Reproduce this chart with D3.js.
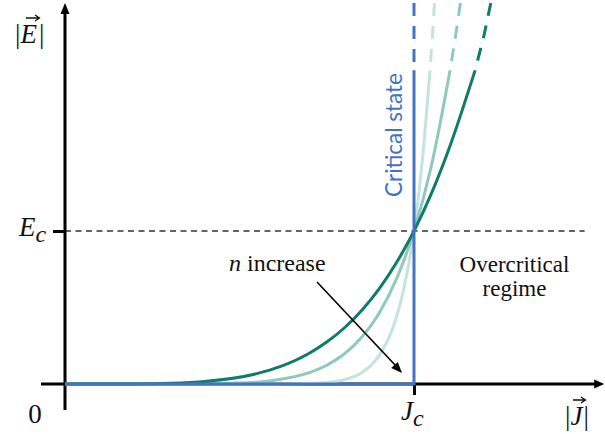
<!DOCTYPE html>
<html>
<head>
<meta charset="utf-8">
<script src="https://cdn.jsdelivr.net/npm/d3@7"></script>
<style>
  body { margin: 0; background: #fff; }
  svg { display: block; }
  .serif { font-family: "Liberation Serif", "Times New Roman", serif; fill: #111; }
</style>
</head>
<body>
<svg id="chart" width="605" height="434"></svg>
<script>
// Normalised current density J/Jc and electric field E/Ec along each E–J curve.
// Curves go from low n (dark) to high n (light); solid up to E/Ec = 2.05, dashed above.
const darkJ  = [0, 0.2, 0.3, 0.4, 0.55, 0.62, 0.7, 0.75, 0.8, 0.85, 0.9, 0.95, 1.0, 1.05, 1.1, 1.175];
const darkE  = [0, 0.0007, 0.0044, 0.0162, 0.0679, 0.1164, 0.201, 0.274, 0.366, 0.481, 0.622, 0.794, 1.0, 1.2455, 1.536, 2.05];
const darkDashJ = [1.175, 1.2, 1.22];
const darkDashE = [2.05, 2.2715, 2.49];

const midJ  = [0, 0.3, 0.5, 0.6, 0.7, 0.75, 0.8, 0.85, 0.9, 0.95, 1.0, 1.05, 1.1033];
const midE  = [0, 0.00015, 0.00635, 0.024, 0.074, 0.1225, 0.196, 0.305, 0.463, 0.688, 1.0, 1.428, 2.05];
const midDashJ = [1.1033, 1.118, 1.1331];
const midDashE = [2.05, 2.258, 2.49];

const lightJ = [0, 0.4, 0.6, 0.7, 0.75, 0.8, 0.85, 0.88, 0.9, 0.92, 0.94, 0.96, 0.98, 1.0, 1.02, 1.0459];
const lightE = [0, 0, 0.00028, 0.0033, 0.01, 0.0282, 0.0743, 0.1294, 0.1853, 0.2634, 0.3716, 0.5204, 0.7238, 1.0, 1.3728, 2.05];
const lightDashJ = [1.0459, 1.0523, 1.0587];
const lightDashE = [2.05, 2.261, 2.49];

// Critical-state model: E = 0 below Jc, vertical at Jc
const criticalJ = [0, 1, 1];
const criticalE = [0, 0, 2.05];
const criticalDashJ = [1, 1];
const criticalDashE = [2.05, 2.49];

// Axis extents, reference levels and text
const xExtent = [-0.0688, 1.545];
const yExtent = [-0.17, 2.49];
const ecLineExtent = [0, 1.489];
const tickJ = [1];
const tickE = [1];
const regimeLines = ["Overcritical", "regime"];
const criticalLabel = "Critical state";
const increaseLabel = "increase";

const colors = { dark: "#0f7b6b", mid: "#8fc8bd", light: "#c4e3dd", blue: "#4472c4" };

const svg = d3.select("#chart");
const x = d3.scaleLinear().domain([0, 1]).range([65, 414]);
const y = d3.scaleLinear().domain([0, 1]).range([384, 231]);

const zip = (a, b) => a.map((v, i) => [v, b[i]]);
const smooth = d3.line().x(d => x(d[0])).y(d => y(d[1])).curve(d3.curveMonotoneX);
const straight = d3.line().x(d => x(d[0])).y(d => y(d[1]));

// Dashed Ec reference line
svg.append("line")
  .attr("x1", x(ecLineExtent[0])).attr("x2", x(ecLineExtent[1]))
  .attr("y1", y(1)).attr("y2", y(1))
  .attr("stroke", "#333").attr("stroke-width", 1.3).attr("stroke-dasharray", "6,4.5");

// Axes with arrowheads
const axisG = svg.append("g");
axisG.append("line")
  .attr("x1", x(0)).attr("x2", x(0))
  .attr("y1", y(yExtent[0])).attr("y2", y(yExtent[1]) + 8)
  .attr("stroke", "#000").attr("stroke-width", 3);
axisG.append("path")
  .attr("d", `M${x(0)},${y(yExtent[1])} l-4.5,11 l9,0 Z`).attr("fill", "#000");
axisG.append("line")
  .attr("x1", x(xExtent[0])).attr("x2", x(xExtent[1]) - 7)
  .attr("y1", y(0)).attr("y2", y(0))
  .attr("stroke", "#000").attr("stroke-width", 3);
axisG.append("path")
  .attr("d", `M${x(xExtent[1])},${y(0)} l-10,-4.5 l0,9 Z`).attr("fill", "#000");

// Ticks at Jc and Ec
svg.append("g").attr("transform", `translate(0,${y(0)})`)
  .call(d3.axisBottom(x).tickValues(tickJ).tickSize(11).tickFormat(""))
  .call(g => g.select(".domain").remove())
  .call(g => g.selectAll(".tick line").attr("stroke", "#000").attr("stroke-width", 3));
svg.append("g").attr("transform", `translate(${x(0)},0)`)
  .call(d3.axisLeft(y).tickValues(tickE).tickSize(12).tickFormat(""))
  .call(g => g.select(".domain").remove())
  .call(g => g.selectAll(".tick line").attr("stroke", "#000").attr("stroke-width", 3));

// E–J curves
const curves = [
  { solid: zip(lightJ, lightE), dash: zip(lightDashJ, lightDashE), color: colors.light },
  { solid: zip(midJ, midE), dash: zip(midDashJ, midDashE), color: colors.mid },
  { solid: zip(darkJ, darkE), dash: zip(darkDashJ, darkDashE), color: colors.dark }
];
const curveG = svg.append("g").attr("fill", "none").attr("stroke-width", 3);
curves.forEach(c => {
  curveG.append("path").attr("d", smooth(c.solid)).attr("stroke", c.color);
  curveG.append("path").attr("d", straight(c.dash.slice().reverse()))
    .attr("stroke", c.color).attr("stroke-dasharray", "13,10");
});

// Critical state
curveG.append("path").attr("d", straight(zip(criticalJ, criticalE))).attr("stroke", colors.blue);
curveG.append("path").attr("d", straight(zip(criticalDashJ, criticalDashE).reverse()))
  .attr("stroke", colors.blue).attr("stroke-dasharray", "13,10");

// "n increase" arrow
svg.append("line")
  .attr("x1", 317).attr("y1", 282).attr("x2", 396).attr("y2", 366)
  .attr("stroke", "#000").attr("stroke-width", 1.6);
svg.append("path")
  .attr("transform", `translate(402,373) rotate(${Math.atan2(91, 85) * 180 / Math.PI})`)
  .attr("d", "M0,0 L-11,-4.5 L-11,4.5 Z").attr("fill", "#000");

// Text labels
const label = (xp, yp, size) => svg.append("text").attr("class", "serif")
  .attr("x", xp).attr("y", yp).style("font-size", size + "px");

// |E| with vector arrow
const eLab = label(15, 43, 27);
eLab.append("tspan").text("|");
eLab.append("tspan").style("font-style", "italic").text("E");
eLab.append("tspan").attr("dx", 2).text("|");
svg.append("path").attr("d", "M26,18 L39,18 M35,15 L39.5,18 L35,21")
  .attr("stroke", "#111").attr("stroke-width", 1.3).attr("fill", "none");

// Ec
const ecLab = label(19, 236, 27).style("font-style", "italic");
ecLab.append("tspan").text("E");
ecLab.append("tspan").attr("dy", 6).style("font-size", "24px").text("c");

// origin
label(35, 423, 27).attr("text-anchor", "middle").text("0");

// Jc
const jcLab = label(401, 420, 27).style("font-style", "italic");
jcLab.append("tspan").text("J");
jcLab.append("tspan").attr("dy", 6).style("font-size", "24px").text("c");

// |J| with vector arrow
const jLab = label(565, 425, 27);
jLab.append("tspan").text("|");
jLab.append("tspan").style("font-style", "italic").text("J");
jLab.append("tspan").attr("dx", 1).text("|");
svg.append("path").attr("d", "M573,400 L585,400 M581,397 L585.5,400 L581,403")
  .attr("stroke", "#111").attr("stroke-width", 1.3).attr("fill", "none");

// n increase
const nLab = label(229, 271, 24);
nLab.append("tspan").style("font-style", "italic").text("n");
nLab.append("tspan").text(" " + increaseLabel);

// Overcritical regime
const ocLab = label(514.5, 272, 23).attr("text-anchor", "middle");
regimeLines.forEach((t, i) => ocLab.append("tspan").attr("x", 514.5).attr("dy", i ? 24 : 0).text(t));

// Critical state (rotated)
const cs = svg.append("text")
  .attr("transform", "translate(402,135) rotate(-90)")
  .attr("text-anchor", "middle")
  .style("font-family", "Lato, 'Open Sans', sans-serif")
  .style("font-size", "20px").attr("fill", colors.blue)
  .text(criticalLabel);
const w = cs.node().getComputedTextLength();
cs.style("font-size", (20 * 124 / w).toFixed(2) + "px");
</script>
</body>
</html>
